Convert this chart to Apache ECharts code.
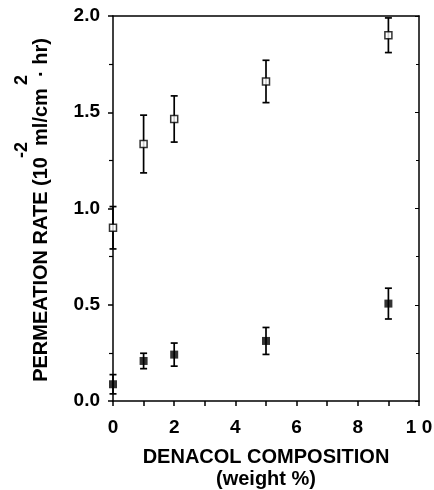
<!DOCTYPE html>
<html>
<head>
<meta charset="utf-8">
<script src="https://cdn.jsdelivr.net/npm/echarts@6/dist/echarts.min.js"></script>
<style>
  html, body { margin: 0; padding: 0; background: #fff; }
  #chart { width: 434px; height: 490px; }
</style>
</head>
<body>
<div id="chart"></div>
<script>
// denacol composition (weight %)
var composition = [0, 1, 2, 5, 9];
// open squares
var openRate = [0.90, 1.335, 1.465, 1.66, 1.90];
var openErr = [0.11, 0.15, 0.12, 0.11, 0.09];
// filled squares
var filledRate = [0.087, 0.208, 0.241, 0.312, 0.506];
var filledErr = [0.05, 0.04, 0.06, 0.07, 0.08];

var font = 'Liberation Sans';

function pairs(xs, ys) {
  var out = [];
  for (var i = 0; i < xs.length; i++) out.push([xs[i], ys[i]]);
  return out;
}
function bars(xs, ys, es) {
  var out = [];
  for (var i = 0; i < xs.length; i++) out.push([xs[i], ys[i] - es[i], ys[i] + es[i]]);
  return out;
}

function errorItem(params, api) {
  var lo = api.coord([api.value(0), api.value(1)]);
  var hi = api.coord([api.value(0), api.value(2)]);
  var w = 3.5;
  var st = { stroke: '#000', lineWidth: 1.7 };
  return {
    type: 'group',
    children: [
      { type: 'line', shape: { x1: lo[0], y1: lo[1], x2: hi[0], y2: hi[1] }, style: st },
      { type: 'line', shape: { x1: lo[0] - w, y1: lo[1], x2: lo[0] + w, y2: lo[1] }, style: st },
      { type: 'line', shape: { x1: hi[0] - w, y1: hi[1], x2: hi[0] + w, y2: hi[1] }, style: st }
    ]
  };
}

var chart = echarts.init(document.getElementById('chart'));

function vtext(txt, x, y, size) {
  return {
    type: 'text', x: x, y: y, rotation: Math.PI / 2,
    style: { text: txt, fill: '#000', font: 'bold ' + size + 'px "Liberation Sans"', textAlign: 'center', textVerticalAlign: 'middle' }
  };
}

chart.setOption({
  animation: false,
  backgroundColor: '#fff',
  grid: { left: 113, right: 15, top: 16, bottom: 89, outerBoundsMode: 'none' },
  xAxis: [{
    type: 'value', min: 0, max: 10, interval: 2,
    axisLine: { lineStyle: { color: '#000', width: 1.5 } },
    axisTick: { show: true, length: 5, lineStyle: { color: '#000', width: 1.5 } },
    minorTick: { show: true, splitNumber: 2, length: 5, lineStyle: { color: '#000', width: 1.5 } },
    splitLine: { show: false },
    axisLabel: {
      color: '#000', fontFamily: font, fontWeight: 'bold', fontSize: 19, margin: 17,
      formatter: function (v) { return v === 10 ? '1 0' : String(v); }
    },
    name: 'DENACOL COMPOSITION\n(weight %)',
    nameLocation: 'middle', nameGap: 45,
    nameTextStyle: { color: '#000', fontFamily: font, fontWeight: 'bold', fontSize: 20, lineHeight: 22 }
  }, {
    type: 'value', position: 'top', min: 0, max: 10, interval: 2,
    axisLine: { show: true, onZero: false, lineStyle: { color: '#000', width: 1.5 } },
    axisTick: { show: false }, axisLabel: { show: false }, splitLine: { show: false }
  }],
  yAxis: [{
    type: 'value', min: 0, max: 2, interval: 0.5,
    axisLine: { lineStyle: { color: '#000', width: 1.5 } },
    axisTick: { show: true, length: 5, lineStyle: { color: '#000', width: 1.5 } },
    minorTick: { show: true, splitNumber: 2, length: 4, lineStyle: { color: '#000', width: 1.2 } },
    splitLine: { show: false },
    axisLabel: {
      color: '#000', fontFamily: font, fontWeight: 'bold', fontSize: 19, margin: 13,
      formatter: function (v) { return v.toFixed(1); }
    }
  }, {
    type: 'value', position: 'right', min: 0, max: 2, interval: 0.5,
    axisLine: { show: true, onZero: false, lineStyle: { color: '#000', width: 1.5 } },
    axisTick: { show: true, inside: true, length: 4, lineStyle: { color: '#000', width: 1 } },
    minorTick: { show: true, splitNumber: 2, length: 3, lineStyle: { color: '#000', width: 1 } },
    axisLabel: { show: false }, splitLine: { show: false }
  }],
  graphic: [
    vtext('PERMEATION RATE (10  ml/cm  \u00b7 hr)', 41, 210, 20),
    vtext('-2', 22, 150, 18),
    vtext('2', 22, 80, 18)
  ],
  series: [
    { type: 'custom', renderItem: errorItem, data: bars(composition, openRate, openErr), z: 2 },
    { type: 'custom', renderItem: errorItem, data: bars(composition, filledRate, filledErr), z: 2 },
    {
      type: 'scatter', data: pairs(composition, openRate), symbol: 'rect', symbolSize: 7,
      itemStyle: { color: '#fff', borderColor: '#000', borderWidth: 1.5 }, z: 3
    },
    {
      type: 'scatter', data: pairs(composition, filledRate), symbol: 'rect', symbolSize: 8,
      itemStyle: { color: '#000' }, z: 3
    }
  ]
});
</script>
</body>
</html>
